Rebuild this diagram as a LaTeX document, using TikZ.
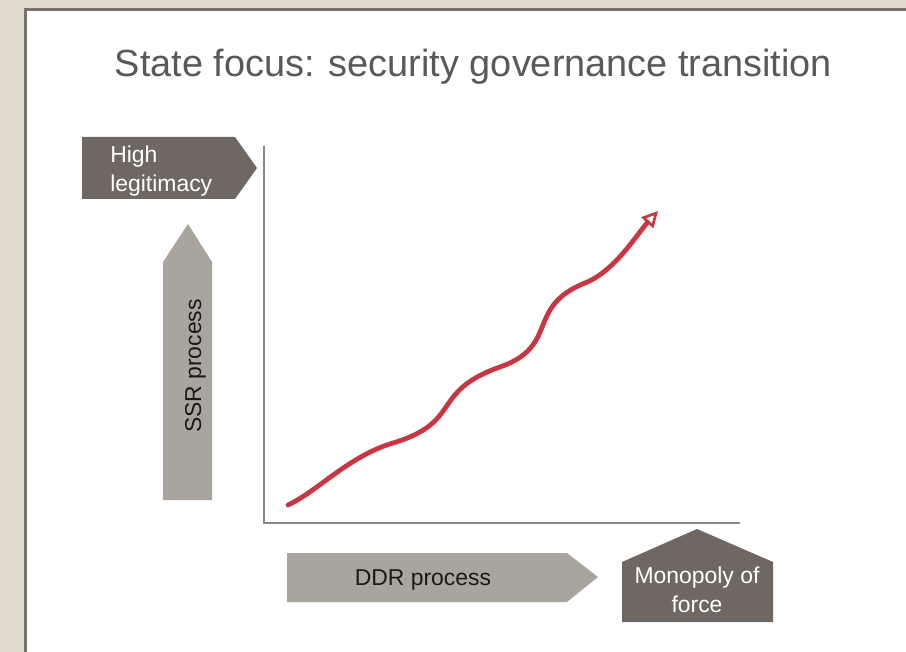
\documentclass[tikz,border=0pt]{standalone}
\usepackage{fontspec}
\setmainfont{Liberation Sans}
\usetikzlibrary{arrows.meta,calc}
\definecolor{slideBg}{RGB}{224,218,209}
\definecolor{frameGray}{RGB}{122,113,108}
\definecolor{darkBox}{RGB}{111,103,98}
\definecolor{lightBox}{RGB}{169,164,158}
\definecolor{axisGray}{RGB}{140,134,130}
\definecolor{curveRed}{RGB}{200,55,65}
\definecolor{titleGray}{RGB}{89,89,89}

\begin{document}
\begin{tikzpicture}[x=0.75pt,y=-0.75pt,
    boxtext/.style={font=\fontsize{17.2}{21.75}\selectfont,inner sep=0pt},
  ]
    \useasboundingbox (0,0) rectangle (906,652);
    \fill[slideBg] (0,0) rectangle (906,652);
    \filldraw[fill=white,draw=frameGray,line width=2.25pt] (25.5,9.5) rectangle (940,690);

    % title
    \node[anchor=base,text=titleGray,font=\fontsize{28.4}{34}\selectfont,inner sep=0pt] (titel) at (473.5,77) {State focus: security governance transition};

    % axes
    \coordinate (origo) at (264,523);
    \coordinate (ytop) at (264,146);
    \coordinate (xend) at (740,523);
    \draw[axisGray,line width=1.5pt] (ytop) -- (origo) -- (xend);

    % high legitimacy
    \fill[darkBox] (82,137) -- (235,137) -- (257,168) -- (235,199) -- (82,199) -- cycle;
    \node[boxtext,anchor=base west,align=left,text=white] (legit) at (110,192) {High\\legitimacy};

    % SSR
    \fill[lightBox] (163,500) -- (163,262) -- (188,224) -- (212,262) -- (212,500) -- cycle;
    \node[boxtext,anchor=base,rotate=90,text=black!90] (ssr) at (201,366) {SSR process};

    % DDR
    \fill[lightBox] (287,553) -- (567,553) -- (598,577) -- (567,602) -- (287,602) -- cycle;
    \node[boxtext,anchor=base,text=black!90] (ddr) at (423,585) {DDR process};

    % monopoly
    \fill[darkBox] (622,622) -- (622,562) -- (697,529) -- (773,562) -- (773,622) -- cycle;
    \node[boxtext,anchor=base,align=center,text=white] (monopol) at (697,612) {Monopoly of\\force};

    % transition curve
    \coordinate (start) at (288,505);
    \coordinate (flat1) at (393,443);
    \coordinate (flat2) at (500,367);
    \coordinate (flat3) at (585,283);
    \coordinate (tip) at (658,211);
    \draw[curveRed,line width=3.6pt,line cap=round,-{Triangle[open,length=12pt,width=12pt,line width=2pt]}]
      (start) .. controls (318,491) and (348,456.5) .. (flat1)
      .. controls (463,422) and (430,391.5) .. (flat2)
      .. controls (560,346) and (525,307) .. (flat3)
      .. controls (615,271) and (637,234) .. (tip);
\end{tikzpicture}
\end{document}
